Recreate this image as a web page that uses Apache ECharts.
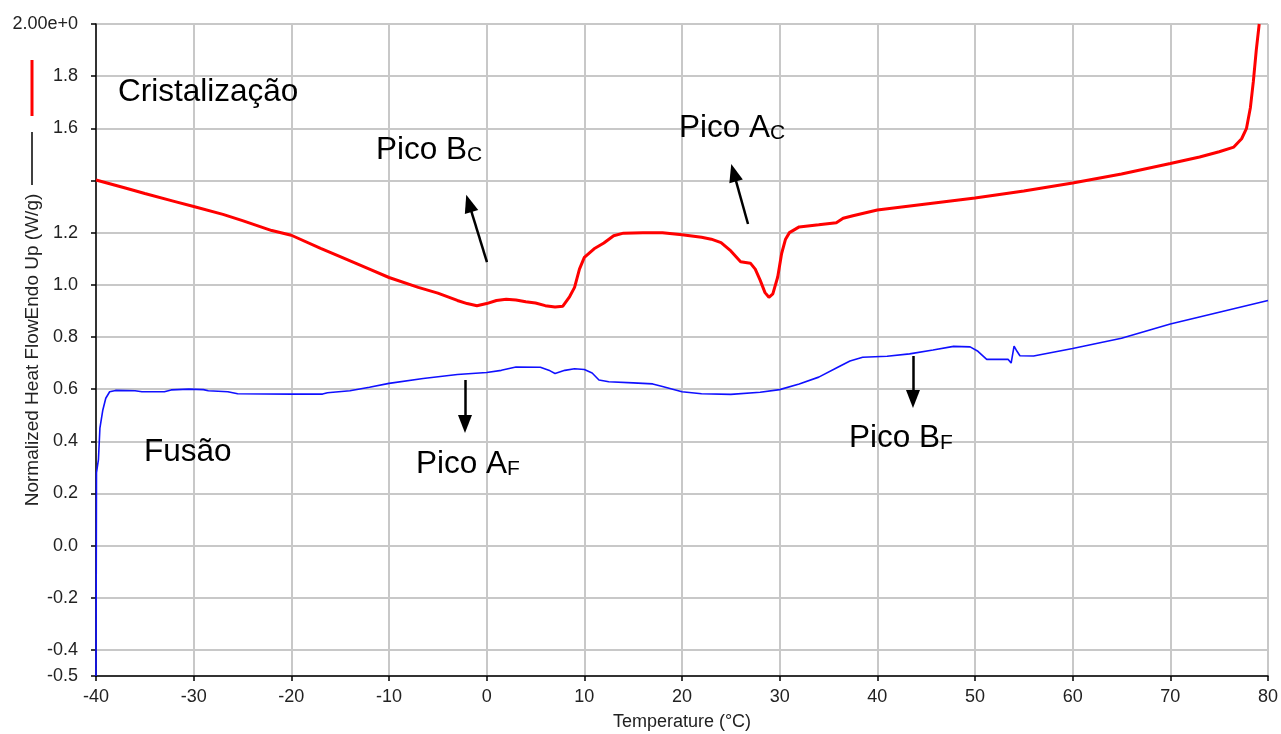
<!DOCTYPE html>
<html>
<head>
<meta charset="utf-8">
<script src="https://cdn.jsdelivr.net/npm/echarts@6/dist/echarts.min.js"></script>
<style>
html,body{margin:0;padding:0;background:#fff;}
#chart{width:1281px;height:734px;}
</style>
</head>
<body>
<div id="chart"></div>
<script>
// ---- data ----
var xTickValues = [-40,-30,-20,-10,0,10,20,30,40,50,60,70,80];
var yTickValues = [-0.5,-0.4,-0.2,0,0.2,0.4,0.6,0.8,1.0,1.2,1.4,1.6,1.8,2.0];
var yLabelValues = [-0.5,-0.4,-0.2,0,0.2,0.4,0.6,0.8,1.0,1.2,1.6,1.8,2.0];
var yLabelTexts = ['-0.5','-0.4','-0.2','0.0','0.2','0.4','0.6','0.8','1.0','1.2','1.6','1.8','2.00e+0'];

// Cristalização (red): [temperature °C, W/g]
var crystTemp = [-40,-37,-35,-32,-30,-27,-25,-22,-20,-17,-15,-12,-10,-7,-5,-3,-2,-1,0,1,2,3,4,5,6,7,7.8,8.5,9,9.5,10,11,12,13,14,16,18,20,22,23,24,25,26,27,27.5,28,28.5,28.9,29.3,29.8,30.2,30.6,31,32,34,35.8,36.5,37.5,40,45,50,55,60,65,70,73,75,76.5,77.3,77.8,78.2,78.5,78.8,79.1];
var crystFlow = [1.402,1.371,1.350,1.320,1.300,1.270,1.246,1.208,1.190,1.140,1.108,1.060,1.028,0.990,0.968,0.940,0.928,0.920,0.928,0.940,0.945,0.942,0.935,0.930,0.920,0.915,0.918,0.955,0.990,1.060,1.105,1.138,1.160,1.188,1.198,1.200,1.200,1.192,1.182,1.175,1.162,1.130,1.088,1.083,1.060,1.018,0.970,0.952,0.965,1.030,1.120,1.175,1.200,1.222,1.230,1.238,1.255,1.265,1.287,1.310,1.333,1.360,1.390,1.425,1.465,1.490,1.510,1.528,1.560,1.600,1.680,1.780,1.900,2.000];

// Fusão (blue)
var fusTemp = [-40,-39.95,-39.75,-39.6,-39.3,-39,-38.6,-38,-36,-35.3,-33,-32.3,-30.5,-29,-28.5,-26.5,-25.5,-20,-16.8,-16.3,-14,-12,-10,-6.5,-3,0,1.5,3,5.5,6.5,7,8,9,10,10.8,11.5,12.5,15,17,18,20,22,25,28,30,32,34,36,37.2,38.5,41,43.3,45.7,47.8,49.5,50.3,51.2,53.4,53.7,54.0,54.3,54.6,56,60,62.8,65,70,75,80];
var fusFlow = [-0.5,0.28,0.33,0.45,0.52,0.565,0.59,0.595,0.594,0.590,0.590,0.597,0.600,0.598,0.594,0.590,0.582,0.581,0.581,0.586,0.594,0.607,0.622,0.641,0.656,0.664,0.672,0.685,0.684,0.670,0.660,0.672,0.678,0.675,0.662,0.635,0.628,0.624,0.620,0.610,0.590,0.582,0.580,0.588,0.598,0.620,0.646,0.685,0.708,0.722,0.726,0.735,0.750,0.764,0.762,0.745,0.714,0.714,0.700,0.765,0.745,0.728,0.727,0.756,0.778,0.795,0.850,0.895,0.940];

// annotations in data coordinates
var labelTexts = [
  {main:'Cristalização', sub:'', at:[-37.75,1.739]},
  {main:'Pico B', sub:'C', at:[-11.33,1.517]},
  {main:'Pico A', sub:'C', at:[19.69,1.601]},
  {main:'Fusão', sub:'', at:[-35.09,0.359]},
  {main:'Pico A', sub:'F', at:[-7.24,0.313]},
  {main:'Pico B', sub:'F', at:[37.1,0.413]}
];
var arrowCoords = [
  [[0.03,1.087],[-1.82,1.312]],
  [[26.76,1.233],[25.29,1.430]],
  [[-2.22,0.635],[-2.22,0.466]],
  [[43.65,0.727],[43.65,0.562]]
];

function zip(a,b){var r=[];for(var i=0;i<a.length;i++)r.push([a[i],b[i]]);return r;}

var FONT = '"Liberation Sans", Arial, sans-serif';
var chart = echarts.init(document.getElementById('chart'), null, {renderer:'canvas'});

var option = {
  animation:false,
  backgroundColor:'#fff',
  grid:{left:96,right:13,top:24,bottom:58,containLabel:false,outerBoundsMode:'none'},
  xAxis:{
    type:'value', min:-40, max:80, interval:10,
    name:'Temperature (°C)', nameLocation:'middle', nameGap:37, nameMoveOverlap:false,
    nameTextStyle:{fontSize:18,color:'#222',fontFamily:FONT},
    axisLine:{show:true,onZero:false,lineStyle:{color:'#000',width:1.5}},
    axisTick:{show:true,length:5,lineStyle:{color:'#000',width:1.5}},
    axisLabel:{fontSize:18,color:'#222',fontFamily:FONT,margin:12,showMinLabel:true,showMaxLabel:true},
    splitLine:{show:true,lineStyle:{color:'#c8c8c8',width:2}}
  },
  yAxis:{
    type:'value', min:-0.5, max:2.0,
    name:'Normalized Heat FlowEndo Up (W/g)', nameLocation:'middle', nameGap:54, nameRotate:90, nameMoveOverlap:false,
    nameTextStyle:{fontSize:19,color:'#222',fontFamily:FONT},
    axisLine:{show:true,onZero:false,lineStyle:{color:'#000',width:1.5}},
    axisTick:{show:true,length:5,customValues:yTickValues,lineStyle:{color:'#000',width:1.5}},
    axisLabel:{fontSize:18,color:'#222',fontFamily:FONT,margin:18,customValues:yLabelValues,
      formatter:function(v){
        for(var i=0;i<yLabelValues.length;i++){ if(Math.abs(yLabelValues[i]-v)<1e-6) return yLabelTexts[i]; }
        return '';
      }},
    splitLine:{show:true,lineStyle:{color:'#c8c8c8',width:2}}
  },
  series:[
    {
      name:'Fusão', type:'line', data:zip(fusTemp,fusFlow), showSymbol:false, smooth:false,
      lineStyle:{color:'#1010ff',width:1.6}, itemStyle:{color:'#1010ff'}, z:3, silent:true
    },
    {
      name:'Cristalização', type:'line', data:zip(crystTemp,crystFlow), showSymbol:false, smooth:false,
      lineStyle:{color:'#ff0000',width:3}, itemStyle:{color:'#ff0000'}, z:4, silent:true,
      markLine:{
        silent:true, symbol:['none','triangle'], symbolSize:[14,18],
        label:{show:false},
        lineStyle:{color:'#000',width:2.5,type:'solid'},
        itemStyle:{color:'#000'},
        emphasis:{disabled:true},
        data: arrowCoords.map(function(a){return [{coord:a[0]},{coord:a[1]}];})
      }
    }
  ]
};
chart.setOption(option);

// annotation text + legend strokes
var graphics = [
  {type:'line', shape:{x1:32,y1:60,x2:32,y2:116}, style:{stroke:'#ff0000',lineWidth:3}},
  {type:'line', shape:{x1:32,y1:132,x2:32,y2:185}, style:{stroke:'#000',lineWidth:1.5}}
];
labelTexts.forEach(function(l){
  var p = chart.convertToPixel({gridIndex:0}, l.at);
  var txt = l.sub ? ('{a|'+l.main+'}{s|'+l.sub+'}') : ('{a|'+l.main+'}');
  graphics.push({
    type:'text', x:p[0], y:p[1], z:10,
    style:{
      text:txt, fill:'#000', verticalAlign:'middle', align:'left',
      rich:{
        a:{fontSize:31.5,fontFamily:FONT,fill:'#000',lineHeight:32},
        s:{fontSize:21,fontFamily:FONT,fill:'#000',lineHeight:17,verticalAlign:'bottom'}
      }
    }
  });
});
chart.setOption({graphic:graphics});
</script>
</body>
</html>
